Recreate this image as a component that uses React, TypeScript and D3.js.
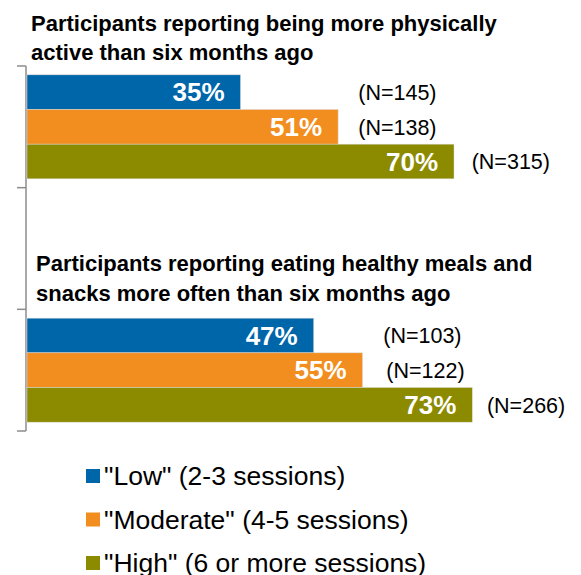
import React from 'react';
import * as d3 from 'd3';

// category rows of the bar axis (middle one is the empty spacer under the second title)
const groups = ['active', 'spacer', 'eating'];
const series = ['Low', 'Moderate', 'High'];
const seriesLabels = ['"Low" (2-3 sessions)', '"Moderate" (4-5 sessions)', '"High" (6 or more sessions)'];
const colors = ['#0066AA', '#F28E20', '#8C8B00'];

const activeValues = [35, 51, 70];
const activeN = [145, 138, 315];
const eatingValues = [47, 55, 73];
const eatingN = [103, 122, 266];

const titles: Record<string, string[]> = {
  active: ['Participants reporting being more physically', 'active than six months ago'],
  eating: ['Participants reporting eating healthy meals and', 'snacks more often than six months ago'],
};

// where the "(N=..)" text boxes sit, in percent units of the x scale
const nLabelAt: Record<string, number[]> = {
  active: [54.3, 54.3, 72.9],
  eating: [58.4, 58.9, 75.4],
};

const W = 581;
const H = 575;
const font = 'Arial, "Liberation Sans", sans-serif';

export default function App() {
  const x = d3.scaleLinear().domain([0, 100]).range([27, 637]);
  const y = d3.scaleBand<string>().domain(groups).range([66, 431]);
  const inner = d3
    .scaleBand<string>()
    .domain(series)
    .range([0, y.step()])
    .paddingInner(0)
    .paddingOuter(0.255);

  const data: Record<string, { values: number[]; n: number[] }> = {
    active: { values: activeValues, n: activeN },
    eating: { values: eatingValues, n: eatingN },
  };

  const tickYs = [...groups.map((g) => y(g)!), y(groups[groups.length - 1])! + y.step()];
  const axisX = 26;

  return (
    <svg
      width={W}
      height={H}
      style={{ position: 'absolute', left: 0, top: 0, background: '#fff' }}
      fontFamily={font}
    >
      {/* titles */}
      <g fontWeight="bold" fontSize={22} fill="#000">
        {titles.active.map((t, i) => (
          <text key={t} x={31} y={31 + i * 29}>{t}</text>
        ))}
        {titles.eating.map((t, i) => (
          <text key={t} x={36} y={271 + i * 30}>{t}</text>
        ))}
      </g>

      {/* axis */}
      <g stroke="#8c8c8c" strokeWidth={1.5}>
        <line x1={axisX} x2={axisX} y1={tickYs[0]} y2={tickYs[tickYs.length - 1]} />
        {tickYs.map((ty) => (
          <line key={ty} x1={17} x2={axisX} y1={ty} y2={ty} />
        ))}
      </g>

      {/* bars */}
      {['active', 'eating'].map((g) => (
        <g key={g} transform={`translate(0,${y(g)})`}>
          {series.map((s, i) => {
            const v = data[g].values[i];
            const by = inner(s)!;
            const bh = inner.bandwidth();
            return (
              <g key={s}>
                <rect
                  x={x(0)}
                  y={by}
                  width={x(v) - x(0)}
                  height={bh}
                  fill={colors[i]}
                  stroke="#d9d9d9"
                  strokeWidth={0.5}
                />
                <text
                  x={x(v) - 16}
                  y={by + bh / 2 + 9.3}
                  textAnchor="end"
                  fill="#fff"
                  fontWeight="bold"
                  fontSize={26}
                >
                  {v}%
                </text>
                <text x={x(nLabelAt[g][i])} y={by + bh / 2 + 8} fontSize={21.5} fill="#000">
                  (N={data[g].n[i]})
                </text>
              </g>
            );
          })}
        </g>
      ))}

      {/* legend */}
      <g>
        {series.map((s, i) => (
          <g key={s} transform={`translate(86,${476 + i * 43.5})`}>
            <rect x={0} y={-7} width={14} height={14} fill={colors[i]} />
            <text x={18} y={9} fontSize={26.5} fill="#000">
              {seriesLabels[i]}
            </text>
          </g>
        ))}
      </g>
    </svg>
  );
}
